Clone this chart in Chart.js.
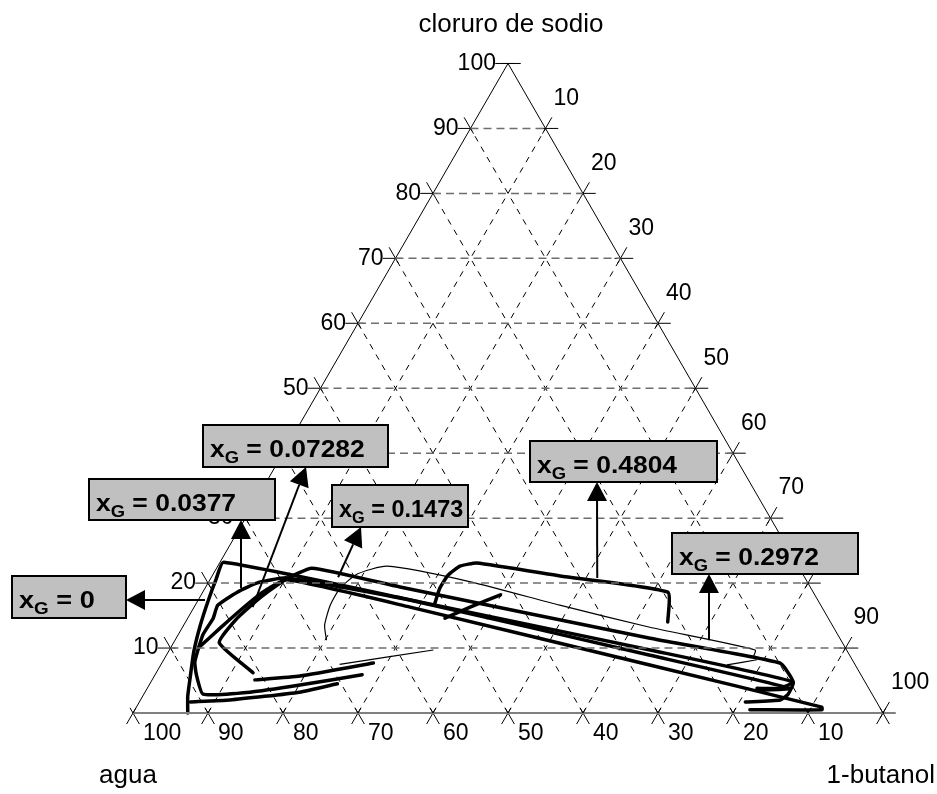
<!DOCTYPE html>
<html>
<head>
<meta charset="utf-8">
<script src="https://cdn.jsdelivr.net/npm/chart.js@4.4.1/dist/chart.umd.min.js"></script>
<style>
  html, body { margin: 0; padding: 0; background: #fff; }
  canvas { display: block; }
</style>
</head>
<body>
<canvas id="ternary" width="937" height="794"></canvas>
<script>
// compositions are [1-butanol %, cloruro de sodio %], agua is the rest
const gridSteps = [10, 20, 30, 40, 50, 60, 70, 80, 90];
const leftTicks = [10, 20, 30, 40, 50, 60, 70, 80, 90, 100];    // cloruro de sodio
const rightTicks = [10, 20, 30, 40, 50, 60, 70, 80, 90, 100];   // 1-butanol
const bottomTicks = [100, 90, 80, 70, 60, 50, 40, 30, 20, 10];  // agua
const vertexNames = ['agua', '1-butanol', 'cloruro de sodio'];

// binodal curves
const curveA = [[7.3, 0], [6.0, 2.6], [4.8, 5.7], [3.4, 9.4], [2.3, 13.2], [1.4, 17.2], [0.8, 20.5], [0.5, 23.2],
  [29.7, 17.1], [64.1, 9.7], [85.6, 4.8], [85.9, 2.9], [85.3, 2.0], [80.8, 1.7]];
const curveA2 = [[6.8, 1.7], [11.9, 2.0], [20.6, 3.2], [25.0, 4.5]];
const curveB = [[27.6, 5.9], [20.1, 4.3], [14.0, 3.2], [7.9, 2.9], [5.5, 5.9], [4.3, 7.9], [3.3, 12.0], [3.4, 14.6],
  [3.0, 16.6], [4.6, 18.6], [6.5, 20.0], [10.1, 20.8], [28.2, 17.4], [64.5, 8.9], [85.7, 3.8], [81.4, 3.5]];
const curveC = [[3.7, 10.0], [5.1, 13.1], [6.6, 16.2], [8.0, 18.6], [10.3, 20.5], [28.8, 16.3], [65.2, 7.4],
  [91.4, 0.9], [91.6, 0.5], [82.0, 0.5]];
const curveD = [[12.9, 6.2], [6.1, 10.8], [6.6, 14.6], [8.2, 18.0], [10.0, 20.5], [12.7, 22.3], [25.9, 19.4],
  [63.2, 11.5], [82.4, 7.7], [85.6, 4.8], [84.3, 3.8], [81.3, 3.8]];
const curveE = [[13.7, 5.1], [19.4, 5.7], [28.2, 7.7]];
const curveF = [[31.8, 16.9], [31.3, 19.2], [31.4, 21.2], [32.3, 22.6], [34.3, 23.1], [46.4, 21.1], [62.0, 18.6], [64.3, 14.0]];
const curveG = [[34.3, 14.6], [36.8, 16.3], [39.9, 18.2]];
const thinCurve1 = [[20.2, 11.2], [18.8, 13.5], [18.0, 16.6], [18.0, 19.2], [19.2, 21.4], [22.6, 22.6], [34.9, 20.2],
  [48.6, 16.6], [62.3, 13.2], [78.1, 9.7], [78.4, 8.5]];
const thinCurve2 = [[23.8, 7.5], [35.2, 9.7]];
const thinCurve3 = [[75.5, 7.4], [79.1, 8.2]];

const thickCurves = [curveA, curveA2, curveB, curveC, curveD, curveE, curveF, curveG];
const thinCurves = [thinCurve1, thinCurve2, thinCurve3];

// x_G labels and the curve points their arrows start from
const xgLabels = ['0', '0.0377', '0.07282', '0.1473', '0.4804', '0.2972'];
const xgTargets = [[0.9, 17.4], [4.8, 19.2], [7.8, 16.3], [16.9, 20.9], [51.5, 20.8], [71.2, 11.2]];
// box [left, top, width, height], text stretch and arrow tip, in pixels
const xgBoxes = [[12, 576, 114, 42], [89, 479, 186, 41], [203, 425, 185, 42], [332, 485, 136, 42], [530, 441, 187, 41], [672, 533, 186, 41]];
const xgStretch = [1.18, 1.15, 1.15, 1.02, 1.15, 1.15];
const xgTips = [[126, 600], [241, 520], [306, 467], [361, 527], [597, 482], [709, 574]];

const H = Math.sqrt(3) / 2;
function toXY(c) { return { x: c[0] + c[1] / 2, y: c[1] * H }; }
const GAP = { x: NaN, y: NaN };

function segments(list) {
  const out = [];
  list.forEach(function (s) { out.push(s[0], s[1], GAP); });
  return out;
}

// grid lines
const hLines = [], dLines = [];
gridSteps.forEach(function (n) {
  hLines.push([toXY([0, n]), toXY([100 - n, n])]);
  dLines.push([toXY([n, 0]), toXY([n, 100 - n])]);
  dLines.push([toXY([n, 0]), toXY([0, n])]);
});

// tick crosses: short pieces of the grid directions, mostly outside the triangle
function tick(p, d) {
  const out = 1.7, inn = 0.8;
  return [{ x: p.x + d[0] * out, y: p.y + d[1] * out }, { x: p.x - d[0] * inn, y: p.y - d[1] * inn }];
}
const ticks = [];
leftTicks.forEach(function (v) {
  const p = toXY([0, v]);
  ticks.push(tick(p, [-1, 0]));
  if (v < 100) ticks.push(tick(p, [-0.5, H]));
});
ticks.push(tick(toXY([0, 100]), [1, 0]));
rightTicks.forEach(function (v) {
  const p = toXY([v, 100 - v]);
  ticks.push(tick(p, [1, 0]));
  ticks.push(tick(p, [0.5, H]));
});
[0].concat(bottomTicks).forEach(function (w) {
  const p = toXY([100 - w, 0]);
  ticks.push(tick(p, [0.5, -H]));
  ticks.push(tick(p, [-0.5, -H]));
});

function lineSet(data, color, width, dash) {
  return {
    data: data, showLine: true, borderColor: color, borderWidth: width, borderDash: dash || [],
    pointRadius: 0, fill: false, tension: 0, spanGaps: false
  };
}

const datasets = [
  lineSet(segments(hLines), '#6e6e6e', 1.5, [8, 5]),
  lineSet(segments(dLines), '#000', 1, [6, 6]),
  lineSet([toXY([0, 100]), toXY([0, 0])], '#000', 1),
  lineSet([toXY([0, 100]), toXY([100, 0])], '#000', 1),
  lineSet([toXY([0, 0]), toXY([100, 0])], '#808080', 2),
  lineSet(segments(ticks), '#000', 1)
];
thinCurves.forEach(function (c) {
  const s = lineSet(c.map(toXY), '#000', 1.2);
  s.tension = 0.2;
  datasets.push(s);
});
thickCurves.forEach(function (c) {
  const s = lineSet(c.map(toXY), '#000', 3.5);
  s.tension = 0.15;
  s.borderCapStyle = 'round';
  s.borderJoinStyle = 'round';
  datasets.push(s);
});

const FONT = "'Liberation Sans', Arial, sans-serif";

const ternaryDecor = {
  id: 'ternaryDecor',
  afterDatasetsDraw(chart) {
    const ctx = chart.ctx;
    const sx = chart.scales.x, sy = chart.scales.y;
    function px(c) {
      const p = toXY(c);
      return [sx.getPixelForValue(p.x), sy.getPixelForValue(p.y)];
    }
    ctx.save();
    ctx.fillStyle = '#000';
    ctx.font = '23px ' + FONT;

    // tick labels
    ctx.textAlign = 'right';
    ctx.textBaseline = 'middle';
    leftTicks.forEach(function (v) {
      const p = px([0, v]);
      ctx.fillText(String(v), p[0] - 12, p[1]);
    });
    ctx.textAlign = 'left';
    rightTicks.forEach(function (v) {
      const p = px([v, 100 - v]);
      ctx.fillText(String(v), p[0] + 8, p[1] - 30);
    });
    bottomTicks.forEach(function (w) {
      const p = px([100 - w, 0]);
      ctx.fillText(String(w), p[0] + 10, p[1] + 21);
    });

    // vertex names
    ctx.font = '26px ' + FONT;
    const a = px([0, 0]), b = px([100, 0]), t = px([0, 100]);
    ctx.textAlign = 'center';
    ctx.fillText(vertexNames[0], a[0] - 5, a[1] + 63);
    ctx.textAlign = 'right';
    ctx.fillText(vertexNames[1], 935, b[1] + 63);
    ctx.textAlign = 'center';
    ctx.fillText(vertexNames[2], t[0] + 3, t[1] - 39);

    // x_G boxes with arrows
    xgLabels.forEach(function (lab, i) {
      const box = xgBoxes[i], tip = xgTips[i], tail = px(xgTargets[i]);
      ctx.fillStyle = '#c0c0c0';
      ctx.strokeStyle = '#000';
      ctx.lineWidth = 2;
      ctx.fillRect(box[0], box[1], box[2], box[3]);
      ctx.strokeRect(box[0], box[1], box[2], box[3]);

      ctx.save();
      ctx.beginPath();
      ctx.rect(box[0] + 1, box[1] + 1, box[2] - 2, box[3] - 2);
      ctx.clip();
      ctx.translate(box[0] + 7, box[1] + 32);
      ctx.scale(xgStretch[i], 1);
      ctx.fillStyle = '#000';
      ctx.textAlign = 'left';
      ctx.textBaseline = 'alphabetic';
      let x = 0;
      ctx.font = 'bold 23px ' + FONT;
      ctx.fillText('x', x, 0);
      x += ctx.measureText('x').width;
      ctx.font = 'bold 16px ' + FONT;
      ctx.fillText('G', x, 6);
      x += ctx.measureText('G').width;
      ctx.font = 'bold 23px ' + FONT;
      ctx.fillText(' = ' + lab, x, 0);
      ctx.restore();

      // arrow
      const dx = tip[0] - tail[0], dy = tip[1] - tail[1];
      const len = Math.sqrt(dx * dx + dy * dy), ux = dx / len, uy = dy / len;
      const hl = 19, hw = 10;
      ctx.fillStyle = '#000';
      ctx.beginPath();
      ctx.moveTo(tail[0], tail[1]);
      ctx.lineTo(tip[0] - ux * hl, tip[1] - uy * hl);
      ctx.lineWidth = 2;
      ctx.stroke();
      ctx.beginPath();
      ctx.moveTo(tip[0], tip[1]);
      ctx.lineTo(tip[0] - ux * hl - uy * hw, tip[1] - uy * hl + ux * hw);
      ctx.lineTo(tip[0] - ux * hl + uy * hw, tip[1] - uy * hl - ux * hw);
      ctx.closePath();
      ctx.fill();
    });
    ctx.restore();
  }
};

new Chart(document.getElementById('ternary'), {
  type: 'scatter',
  data: { datasets: datasets },
  options: {
    responsive: false,
    animation: false,
    devicePixelRatio: 1,
    layout: { padding: 0 },
    scales: {
      x: { type: 'linear', min: -17.733, max: 107.2, display: false },
      y: { type: 'linear', min: -10.8, max: 95.067, display: false }
    },
    plugins: { legend: { display: false }, tooltip: { enabled: false } }
  },
  plugins: [ternaryDecor]
});
</script>
</body>
</html>
